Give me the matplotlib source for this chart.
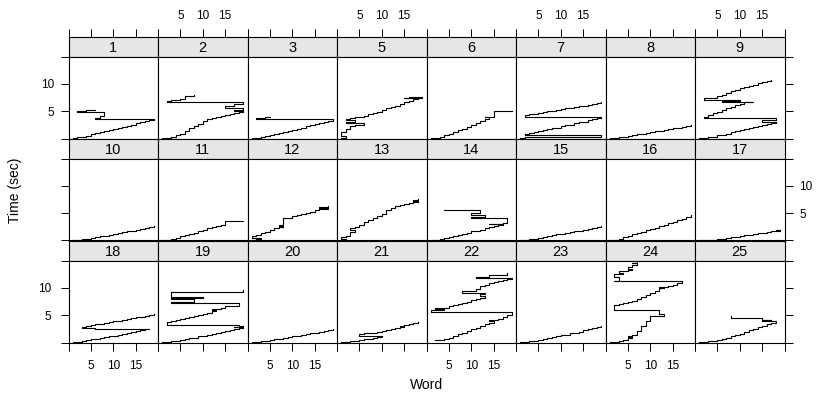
import matplotlib
matplotlib.use("Agg")
import matplotlib.pyplot as plt

plt.rcParams['font.family'] = ['Liberation Sans', 'DejaVu Sans']

# panel ids, in reading order (3 rows x 8 columns)
panel_ids = [1, 2, 3, 5, 6, 7, 8, 9,
             10, 11, 12, 13, 14, 15, 16, 17,
             18, 19, 20, 21, 22, 23, 24, 25]

x_ticks = [0, 5, 10, 15, 20]
x_tick_labels = ['', '5', '10', '15', '']
y_ticks = [0, 5, 10, 15]
y_tick_labels = ['', '5', '10', '']

# word index / fixation time (sec) for each panel
w1 = [1, 2, 3, 4, 5, 6, 7, 8, 9, 10, 11, 12, 13, 14, 15, 16, 17, 18, 19, 6, 7, 8, 8, 2, 3, 4, 5, 6]
t1 = [0.05, 0.2, 0.35, 0.5, 0.75, 0.95, 1.15, 1.35, 1.5, 1.7, 1.95, 2.15, 2.35, 2.5, 2.75, 2.95, 3.15, 3.35, 3.6,
      3.75, 4.1, 4.4, 4.85, 5.0, 5.05, 5.15, 5.2, 5.25]

w2 = [1, 2, 3, 4, 5, 6, 7, 8, 9, 10, 11, 12, 13, 14, 15, 16, 17, 18, 19, 17, 19, 15, 17, 19, 2, 3, 4, 5, 6, 7, 8]
t2 = [0.05, 0.1, 0.3, 0.6, 0.9, 1.3, 1.9, 2.2, 2.6, 3.2, 3.5, 3.7, 3.9, 4.1, 4.3, 4.5, 4.7, 4.9, 5.1,
      5.3, 5.5, 6.0, 6.3, 6.7, 6.9, 7.0, 7.05, 7.15, 7.7, 7.8, 8.0]

w3 = [1, 2, 3, 4, 5, 6, 7, 8, 9, 10, 11, 12, 13, 14, 15, 16, 17, 18, 19, 8, 2, 4, 5]
t3 = [0.05, 0.1, 0.25, 0.4, 0.6, 0.8, 1.0, 1.2, 1.4, 1.6, 1.8, 2.0, 2.25, 2.45, 2.65, 2.85, 3.05, 3.25, 3.5,
      3.6, 3.8, 3.85, 3.9]

w5 = [1, 2, 1, 2, 3, 4, 6, 2, 4, 2, 3, 4, 5, 6, 7, 8, 9, 10, 11, 12, 13, 14, 15, 16, 17, 18, 19, 15, 16, 17, 19]
t5 = [0.05, 0.5, 1.1, 1.7, 2.2, 2.5, 2.8, 3.0, 3.3, 3.5, 3.7, 3.9, 4.0, 4.2, 4.5, 4.7, 4.9, 5.2, 5.5, 5.8,
      6.0, 6.3, 6.6, 6.9, 7.2, 7.35, 7.45, 7.5, 7.55, 7.6, 7.65]

w6 = [1, 2, 3, 4, 5, 6, 7, 8, 9, 10, 11, 12, 13, 14, 13, 15, 15, 19]
t6 = [0.05, 0.1, 0.35, 0.6, 0.9, 1.2, 1.5, 1.8, 2.1, 2.4, 2.8, 3.2, 3.6, 3.9, 4.0, 4.5, 4.95, 5.0]

w7 = [1, 2, 19,
      2, 3, 4, 5, 6, 7, 8, 9, 10, 11, 12, 13, 14, 15, 16, 17, 18, 19,
      2, 3, 4, 5, 6, 7, 8, 9, 10, 11, 12, 13, 14, 15, 16, 17, 18, 19]
t7 = [0.05, 0.25, 0.7,
      0.85, 1.0, 1.2, 1.35, 1.5, 1.7, 1.85, 2.0, 2.2, 2.4, 2.55, 2.75, 2.95, 3.1, 3.3, 3.5, 3.7, 3.9,
      4.3, 4.45, 4.55, 4.7, 4.85, 4.95, 5.1, 5.25, 5.35, 5.5, 5.6, 5.75, 5.9, 6.0, 6.15, 6.3, 6.45, 6.6]

w8 = [1, 2, 3, 4, 5, 6, 7, 8, 9, 10, 11, 12, 13, 14, 15, 16, 17, 18, 19]
t8 = [0.05, 0.1, 0.2, 0.35, 0.5, 0.6, 0.75, 0.9, 1.0, 1.15, 1.3, 1.45, 1.55, 1.7, 1.85, 1.95, 2.1, 2.25, 2.4]

w9 = [1, 2, 3, 4, 5, 6, 7, 8, 9, 10, 11, 12, 13, 14, 15, 16, 17, 18, 15, 16, 18,
      2, 3, 4, 5, 6, 7, 8, 9, 10, 11, 13, 6, 10, 2,
      5, 6, 7, 8, 9, 10, 11, 12, 13, 14, 15, 16, 17]
t9 = [0.05, 0.1, 0.2, 0.35, 0.55, 0.7, 0.9, 1.1, 1.3, 1.5, 1.7, 1.9, 2.1, 2.3, 2.5, 2.7, 2.9, 3.0, 3.3, 3.45, 3.7,
      4.0, 4.3, 4.6, 4.9, 5.2, 5.5, 5.8, 6.1, 6.4, 6.6, 6.7, 6.9, 7.1, 7.4,
      7.7, 7.9, 8.4, 8.6, 8.8, 9.2, 9.4, 9.6, 9.8, 10.1, 10.3, 10.5, 10.7]

w10 = [1, 2, 3, 4, 5, 6, 7, 8, 9, 10, 11, 12, 13, 14, 15, 16, 17, 18, 19]
t10 = [0.05, 0.1, 0.2, 0.3, 0.45, 0.6, 0.75, 0.9, 1.05, 1.25, 1.35, 1.5, 1.65, 1.8, 1.95, 2.1, 2.25, 2.45, 2.6]

w11 = [1, 2, 3, 4, 5, 6, 7, 8, 9, 10, 11, 12, 13, 14, 15, 15, 19]
t11 = [0.05, 0.15, 0.3, 0.5, 0.75, 0.95, 1.2, 1.45, 1.7, 1.95, 2.2, 2.45, 2.65, 2.9, 3.2, 3.6, 3.65]

w12 = [1, 2, 3, 1, 2, 3, 4, 5, 6, 7, 8, 7, 8, 10, 11, 12, 13, 14, 15, 16, 17, 18, 16, 17, 18]
t12 = [0.05, 0.3, 0.5, 0.8, 1.0, 1.4, 1.6, 1.9, 2.2, 2.4, 2.6, 2.8, 4.2, 4.4, 4.6, 4.9, 5.1, 5.3, 5.5, 5.7,
       5.85, 6.0, 6.1, 6.2, 6.25]

w13 = [1, 2, 1, 2, 3, 4, 3, 4, 5, 6, 7, 8, 9, 10, 11, 12, 13, 14, 15, 16, 17, 18, 17, 18]
t13 = [0.05, 0.3, 0.6, 0.9, 1.5, 2.0, 2.3, 2.5, 2.9, 3.3, 3.7, 4.1, 4.5, 4.9, 5.5, 6.0, 6.3, 6.5, 6.7, 6.85,
       7.0, 7.3, 7.45, 7.6]

w14 = [1, 2, 3, 4, 5, 6, 7, 8, 9, 10, 11, 12, 13, 14, 15, 16, 17, 14, 17, 18, 10, 13, 10, 12, 12, 4]
t14 = [0.05, 0.1, 0.25, 0.4, 0.6, 0.8, 1.0, 1.2, 1.45, 1.65, 1.8, 2.0, 2.2, 2.4, 2.6, 2.8, 3.0,
       3.1, 3.2, 4.2, 4.3, 4.6, 5.0, 5.3, 5.6, 5.65]

w15 = [1, 2, 3, 4, 5, 6, 7, 8, 9, 10, 11, 12, 13, 14, 15, 16, 17, 18, 19]
t15 = [0.05, 0.1, 0.2, 0.35, 0.5, 0.65, 0.8, 0.95, 1.1, 1.2, 1.35, 1.5, 1.65, 1.8, 1.95, 2.1, 2.25, 2.45, 2.6]

w16 = [1, 2, 3, 4, 5, 6, 7, 8, 9, 10, 11, 12, 13, 14, 15, 16, 17, 18, 19]
t16 = [0.05, 0.15, 0.35, 0.6, 0.85, 1.1, 1.35, 1.6, 1.85, 2.1, 2.35, 2.6, 2.9, 3.15, 3.4, 3.7, 3.95, 4.3, 4.6]

w17 = [1, 2, 3, 4, 5, 6, 7, 8, 9, 10, 11, 12, 13, 14, 15, 16, 17, 18, 19, 18, 19]
t17 = [0.05, 0.08, 0.1, 0.15, 0.25, 0.35, 0.45, 0.55, 0.7, 0.8, 0.95, 1.05, 1.2, 1.35, 1.45, 1.55, 1.7, 1.8,
       1.85, 1.9, 1.95]

w18 = [1, 2, 3, 4, 5, 6, 7, 8, 9, 10, 11, 12, 13, 14, 15, 16, 17, 18, 6, 3,
       4, 5, 6, 7, 8, 9, 10, 11, 12, 13, 14, 15, 16, 17, 18, 19]
t18 = [0.05, 0.15, 0.3, 0.45, 0.6, 0.7, 0.8, 0.95, 1.1, 1.25, 1.4, 1.6, 1.75, 1.95, 2.1, 2.25, 2.4, 2.55, 2.65, 2.9,
       3.1, 3.2, 3.3, 3.45, 3.6, 3.75, 3.85, 3.95, 4.1, 4.25, 4.4, 4.6, 4.7, 4.85, 5.0, 5.3]

w19 = [1, 2, 3, 4, 5, 6, 7, 8, 9, 10, 11, 12, 13, 14, 15, 16, 17, 18, 19, 17, 19, 18,
       2, 3, 4, 5, 6, 7, 8, 9, 10, 11, 12, 13, 12, 13, 14, 15,
       18, 3, 8, 3, 10, 3, 14, 19]
t19 = [0.05, 0.1, 0.2, 0.3, 0.45, 0.6, 0.75, 0.9, 1.1, 1.25, 1.45, 1.6, 1.8, 2.0, 2.15, 2.3, 2.5, 2.65, 2.8,
       2.9, 3.05, 3.2,
       3.8, 4.0, 4.15, 4.3, 4.45, 4.6, 4.8, 5.0, 5.2, 5.4, 5.7, 6.0, 6.1, 6.2, 6.4, 6.6,
       7.3, 7.5, 7.9, 8.1, 8.4, 9.2, 9.3, 9.6]

w20 = [1, 2, 3, 4, 5, 6, 7, 8, 9, 10, 11, 12, 13, 14, 15, 16, 17, 18, 19]
t20 = [0.05, 0.1, 0.2, 0.3, 0.4, 0.55, 0.7, 0.85, 1.0, 1.1, 1.25, 1.4, 1.55, 1.65, 1.8, 1.95, 2.1, 2.3, 2.55]

w21 = [1, 2, 3, 4, 5, 6, 7, 8, 9, 10,
       5, 6, 7, 8, 9, 10, 11, 12, 13, 14, 15, 14, 15, 16, 17, 18]
t21 = [0.05, 0.15, 0.25, 0.35, 0.45, 0.6, 0.7, 0.8, 0.95, 1.1,
       1.6, 1.65, 1.7, 1.75, 1.9, 2.05, 2.2, 2.4, 2.6, 2.8, 3.05, 3.1, 3.2, 3.35, 3.5, 3.7]

w22 = [2, 3, 4, 5, 6, 7, 8, 9, 10, 11, 12, 13, 14, 15, 14, 16, 17, 18, 19, 1, 4, 2,
       5, 6, 7, 8, 9, 10, 11, 12, 13, 12, 13, 8, 11,
       12, 13, 14, 15, 16, 17, 18, 19, 11, 14, 18]
t22 = [0.45, 0.5, 0.7, 0.9, 1.2, 1.5, 1.8, 2.1, 2.4, 2.7, 3.0, 3.3, 3.6, 3.9, 4.05, 4.3, 4.7, 5.0, 5.5, 5.9, 6.2, 6.3,
       6.6, 6.8, 7.0, 7.3, 7.5, 7.7, 7.9, 8.2, 8.5, 8.8, 9.1, 9.4, 9.7,
       10.3, 10.5, 10.8, 11.0, 11.2, 11.4, 11.6, 11.8, 12.0, 12.3, 12.7]

w23 = [1, 2, 3, 4, 5, 6, 7, 8, 9, 10, 11, 12, 13, 14, 15, 16, 17, 18, 19]
t23 = [0.05, 0.1, 0.2, 0.35, 0.5, 0.65, 0.8, 0.95, 1.1, 1.3, 1.45, 1.65, 1.8, 2.0, 2.2, 2.4, 2.6, 2.85, 3.1]

w24 = [1, 2, 3, 4, 5, 6, 5, 6, 7, 8, 9, 10, 13, 12, 2, 2,
       3, 4, 5, 6, 7, 8, 9, 10, 11, 12, 13, 12, 14, 15, 16, 17,
       2, 3, 2, 4, 3, 5, 6, 5, 6, 7, 6, 7]
t24 = [0.05, 0.15, 0.3, 0.5, 0.75, 0.95, 1.1, 1.3, 2.1, 3.0, 4.0, 4.9, 5.3, 6.0, 6.1, 6.9,
       7.0, 7.2, 7.4, 7.6, 7.9, 8.3, 8.6, 9.0, 9.5, 9.9, 10.0, 10.1, 10.3, 10.6, 10.8, 11.2,
       11.3, 12.0, 12.5, 12.7, 13.0, 13.2, 13.5, 13.8, 14.1, 14.5, 14.6, 14.8]

w25 = [1, 2, 3, 4, 5, 6, 7, 8, 9, 10, 11, 12, 13, 14, 15, 16, 17, 18, 15, 17, 15, 8]
t25 = [0.05, 0.1, 0.2, 0.35, 0.5, 0.7, 0.9, 1.1, 1.35, 1.6, 1.9, 2.2, 2.5, 2.8, 3.1, 3.4, 3.65, 3.9,
       4.1, 4.2, 4.4, 4.8]

series = {1: (w1, t1), 2: (w2, t2), 3: (w3, t3), 5: (w5, t5), 6: (w6, t6), 7: (w7, t7),
          8: (w8, t8), 9: (w9, t9), 10: (w10, t10), 11: (w11, t11), 12: (w12, t12),
          13: (w13, t13), 14: (w14, t14), 15: (w15, t15), 16: (w16, t16), 17: (w17, t17),
          18: (w18, t18), 19: (w19, t19), 20: (w20, t20), 21: (w21, t21), 22: (w22, t22),
          23: (w23, t23), 24: (w24, t24), 25: (w25, t25)}

W, H = 821, 400
fig = plt.figure(figsize=(W / 100, H / 100), dpi=100)

# layout in pixels
col0, colw = 68.5, 89.5
row0, strip_h, panel_h = 36.5, 20, 82
strip_col = '#E6E6E6'
tick_fs = 8.5
strip_fs = 10.5


def box(left, top, width, height):
    return [left / W, 1 - (top + height) / H, width / W, height / H]


def style_ticks(a):
    a.tick_params(which='both', direction='out', length=5.5, width=0.7, pad=5,
                  labelsize=tick_fs, colors='black',
                  bottom=False, top=False, left=False, right=False,
                  labelbottom=False, labeltop=False, labelleft=False, labelright=False)
    for s in a.spines.values():
        s.set_linewidth(0.8)
        s.set_color('black')


for k, pid in enumerate(panel_ids):
    r, c = divmod(k, 8)
    left = col0 + c * colw
    top = row0 + r * (strip_h + panel_h)

    sax = fig.add_axes(box(left, top, colw, strip_h))
    ax = fig.add_axes(box(left, top + strip_h, colw, panel_h))

    w, t = series[pid]
    ax.plot(w, t, drawstyle='steps-post', color='black', lw=0.8)
    ax.set_xlim(0, 20)
    ax.set_ylim(0, 15)
    ax.set_xticks(x_ticks)
    ax.set_xticklabels(x_tick_labels)
    ax.set_yticks(y_ticks)
    ax.set_yticklabels(y_tick_labels)
    style_ticks(ax)

    sax.set_xlim(0, 20)
    sax.set_ylim(0, 1)
    sax.set_xticks(x_ticks)
    sax.set_xticklabels(x_tick_labels)
    sax.set_yticks([])
    sax.set_facecolor(strip_col)
    style_ticks(sax)
    sax.text(0.5, 0.45, str(pid), ha='center', va='center', transform=sax.transAxes,
             fontsize=strip_fs)

    if r == 0:
        sax.tick_params(top=True, labeltop=(c % 2 == 1))
    if r == 2:
        ax.tick_params(bottom=True, labelbottom=(c % 2 == 0), pad=7)
    if c == 0:
        ax.tick_params(left=True, labelleft=(r != 1))
    if c == 7:
        ax.tick_params(right=True, labelright=(r == 1))

fig.text(15 / W, 1 - 190 / H, 'Time (sec)', rotation=90, ha='center', va='center', fontsize=10)
fig.text(427 / W, 1 - 385 / H, 'Word', ha='center', va='center', fontsize=10)

fig.savefig('out.png', dpi=100)
